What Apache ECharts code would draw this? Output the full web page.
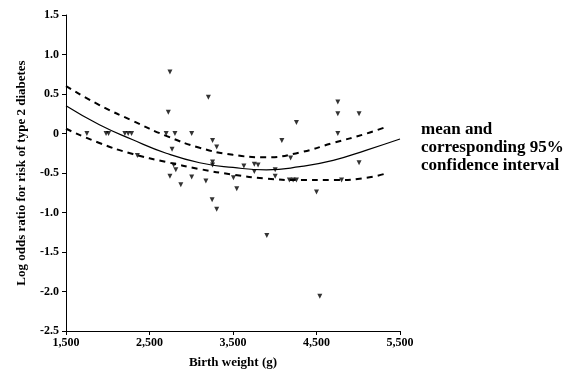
<!DOCTYPE html>
<html>
<head>
<meta charset="utf-8">
<script src="https://cdn.jsdelivr.net/npm/echarts@6/dist/echarts.min.js"></script>
<style>
  html, body { margin: 0; padding: 0; background: #fff; }
  #chart { width: 587px; height: 380px; }
</style>
</head>
<body>
<div id="chart"></div>
<script>
// individual observations: birth weight (g), log odds ratio
const obsWeight = [1750, 1980, 2010, 2205, 2245, 2285, 2355, 2700, 2725, 2745, 2805, 2770,
  2790, 2815, 2745, 2875, 3005, 3005, 3175, 3205, 3255, 3305, 3255, 3255, 3250, 3305,
  3505, 3545, 3630, 3755, 3800, 3755, 3905, 4005, 4005, 4085, 4175, 4190, 4220, 4260,
  4260, 4500, 4540, 4755, 4755, 4755, 4800, 5010, 5010];
const obsLogOdds = [0, 0, 0, 0, 0, 0, -0.28, 0, 0.27, 0.78, 0, -0.2,
  -0.4, -0.46, -0.54, -0.65, 0, -0.55, -0.6, 0.46, -0.09, -0.17, -0.36, -0.4, -0.84, -0.96,
  -0.56, -0.7, -0.41, -0.39, -0.4, -0.48, -1.29, -0.46, -0.54, -0.09, -0.59, -0.31, -0.59, -0.59,
  0.14, -0.74, -2.06, 0.4, 0.25, 0, -0.59, 0.25, -0.37];

// fitted mean and 95% confidence band
const meanWeight = [1500, 1900, 2300, 2700, 3100, 3500, 3900, 4300, 4700, 5100, 5500];
const meanValue = [0.35, 0.11, -0.08, -0.25, -0.37, -0.43, -0.46, -0.42, -0.34, -0.21, -0.07];
const bandWeight = [1500, 1900, 2300, 2700, 3100, 3500, 3900, 4300, 4700, 5100, 5350];
const upperValue = [0.6, 0.36, 0.16, -0.03, -0.18, -0.27, -0.3, -0.24, -0.12, 0.0, 0.09];
const lowerValue = [0.06, -0.12, -0.26, -0.36, -0.45, -0.52, -0.57, -0.59, -0.59, -0.56, -0.5];

const xTickLabels = ['1,500', '2,500', '3,500', '4,500', '5,500'];
const yTickLabels = ['-2.5', '-2.0', '-1.5', '-1.0', '-0.5', '0', '0.5', '1.0', '1.5'];

const font = 'Liberation Serif';
const zip = (xs, ys) => xs.map((x, i) => [x, ys[i]]);

const chart = echarts.init(document.getElementById('chart'));

const dashStyle = { color: '#000', width: 2, type: [6, 5] };

chart.setOption({
  animation: false,
  backgroundColor: '#fff',
  grid: { left: 66, right: 187, top: 15, bottom: 49 },
  xAxis: {
    type: 'value',
    min: 1500,
    max: 5500,
    interval: 1000,
    name: 'Birth weight (g)',
    nameLocation: 'middle',
    nameGap: 25,
    nameTextStyle: { fontFamily: font, fontWeight: 'bold', fontSize: 13, color: '#000' },
    axisLine: { onZero: false, lineStyle: { color: '#000', width: 1 } },
    axisTick: { length: 4, lineStyle: { color: '#000' } },
    axisLabel: {
      fontFamily: font, fontWeight: 'bold', fontSize: 12, color: '#000', margin: 6,
      formatter: v => xTickLabels[Math.round((v - 1500) / 1000)]
    },
    splitLine: { show: false }
  },
  yAxis: {
    type: 'value',
    min: -2.5,
    max: 1.5,
    interval: 0.5,
    name: 'Log odds ratio for risk of type 2 diabetes',
    nameLocation: 'middle',
    nameGap: 38,
    nameTextStyle: { fontFamily: font, fontWeight: 'bold', fontSize: 13, color: '#000' },
    axisLine: { show: true, onZero: false, lineStyle: { color: '#000', width: 1 } },
    axisTick: { show: true, length: 4, lineStyle: { color: '#000' } },
    axisLabel: {
      fontFamily: font, fontWeight: 'bold', fontSize: 12, color: '#000', margin: 7,
      formatter: v => yTickLabels[Math.round((v + 2.5) / 0.5)]
    },
    splitLine: { show: false }
  },
  series: [
    {
      type: 'scatter',
      data: zip(obsWeight, obsLogOdds),
      symbol: 'triangle',
      symbolRotate: 180,
      symbolSize: 5,
      itemStyle: { color: '#000' }
    },
    {
      type: 'line',
      data: zip(meanWeight, meanValue),
      smooth: true,
      showSymbol: false,
      lineStyle: { color: '#000', width: 1.2 }
    },
    {
      type: 'line',
      data: zip(bandWeight, upperValue),
      smooth: true,
      showSymbol: false,
      lineStyle: dashStyle
    },
    {
      type: 'line',
      data: zip(bandWeight, lowerValue),
      smooth: true,
      showSymbol: false,
      lineStyle: dashStyle
    }
  ],
  graphic: [
    {
      type: 'text',
      left: 421,
      top: 121,
      style: {
        text: 'mean and\ncorresponding 95%\nconfidence interval',
        font: 'bold 17px "Liberation Serif"',
        lineHeight: 18,
        fill: '#000'
      }
    }
  ]
});
</script>
</body>
</html>
